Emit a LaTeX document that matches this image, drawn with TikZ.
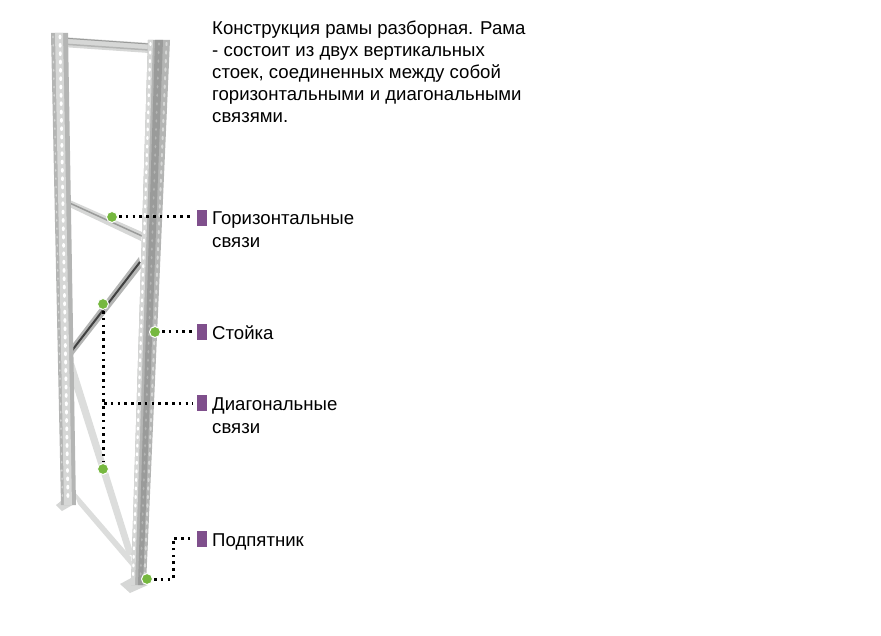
\documentclass[tikz,border=0pt]{standalone}
\usepackage{fontspec}
\setmainfont{Liberation Sans}
\usetikzlibrary{calc}
\definecolor{tagpurple}{HTML}{7F4F8C}
\definecolor{dotgreen}{HTML}{76B83F}
\definecolor{steellight}{HTML}{D6D7D6}
\definecolor{steelmid}{HTML}{B4B5B4}
\definecolor{steeldark}{HTML}{9A9B9A}
\tikzset{
  tag/.style={fill=tagpurple,minimum width=10pt,minimum height=16pt,inner sep=0pt},
  pin/.style={circle,fill=dotgreen,draw=white,line width=1pt,minimum size=11pt,inner sep=0pt},
  label/.style={anchor=north west,align=left,inner sep=0pt,font=\fontsize{18.6}{23}\selectfont},
  leader/.style={draw=black,line width=3pt,dash pattern=on 2.6pt off 4.2pt,shorten >=4pt,shorten <=1pt}
}
\begin{document}
\begin{tikzpicture}[x=1pt,y=-1pt]
    \useasboundingbox (0,0) rectangle (881,636);

    % Draw the feet under the uprights
    \fill[steellight] (56,505) -- (66,497) -- (76,503) -- (62,511) -- cycle;
    \fill[steellight] (120,584) -- (133,577) -- (148,585) -- (130,593) -- cycle;

    % Draw the braces, lying behind the uprights
    \fill[steellight] (62,37) -- (149,43) -- (149,53) -- (62,47) -- cycle;
    \draw[steeldark,line width=1pt] (62,38) -- (149,44);
    \draw[steelmid,line width=1.5pt] (62,44) -- (149,50);
    \fill[steellight] (63,197) -- (142,232) -- (141,241) -- (63,204) -- cycle;
    \draw[steeldark,line width=1.5pt] (63,200) -- (142,236);
    \fill[steelmid] (139,257) -- (141,268) -- (69,360) -- (65,354) -- cycle;
    \draw[black!75,line width=2pt] (140,262) -- (67,357);
    \fill[steellight!85!white] (66,363) -- (74,363) -- (134,555) -- (127,555) -- cycle;
    \fill[steellight!85!white] (73,490) -- (78,504) -- (131,566) -- (131,557) -- cycle;

    % Draw the left upright
    \fill[steelmid] (51,33) -- (68,33) -- (76,505) -- (61,505) -- cycle;
    \fill[steellight] (55,33) -- (63,33) -- (72,505) -- (64,505) -- cycle;
    \foreach \t in {0,0.018,...,1.001} {
        \fill[steellight] ($(53,37)!\t!(62.5,500)$) ellipse (0.8 and 1.5);
        \fill[white] ($(60,37)!\t!(68,500)$) ellipse (1.5 and 2.4);
    }

    % Draw the right upright
    \fill[steelmid] (148,40) -- (170,40) -- (146,585) -- (131,585) -- cycle;
    \fill[steellight] (148,40) -- (153,40) -- (135,585) -- (131,585) -- cycle;
    \fill[steeldark] (155,40) -- (163,40) -- (143,585) -- (138,585) -- cycle;
    \foreach \t in {0,0.016,...,1.001} {
        \fill[white] ($(150.5,44)!\t!(133,578)$) ellipse (1.2 and 2);
        \fill[steelmid] ($(159,44)!\t!(140.5,578)$) ellipse (1 and 1.8);
        \fill[steellight] ($(166.5,44)!\t!(144.5,578)$) ellipse (1.1 and 2.2);
    }

    % Description text
    \node[label,font=\fontsize{18.6}{22}\selectfont] (intro) at (212,21) {Конструкция рамы разборная. Рама\\- состоит из двух вертикальных\\стоек, соединенных между собой\\горизонтальными и диагональными\\связями.};

    % Purple tags and their labels
    \node[tag] (taghoriz) at (202,218) {};
    \node[tag] (tagpost) at (202,332) {};
    \node[tag] (tagdiag) at (202,403) {};
    \node[tag] (tagfoot) at (202,539) {};
    \node[label] (labhoriz) at (212,211) {Горизонтальные\\связи};
    \node[label] (labpost) at (212,325.5) {Стойка};
    \node[label] (labdiag) at (212,397.5) {Диагональные\\связи};
    \node[label] (labfoot) at (212,534) {Подпятник};

    % Green points
    \node[pin] (pinhoriz) at (112,217) {};
    \node[pin] (pinpost) at (155,332) {};
    \node[pin] (pindiagup) at (103,304) {};
    \node[pin] (pindiaglow) at (103,469) {};
    \node[pin] (pinfoot) at (147,579) {};
    \coordinate (branch) at (103,403);
    \coordinate (bend) at (173,538);

    % Dotted leaders
    \draw[leader] (pinhoriz) -- (pinhoriz -| taghoriz.west);
    \draw[leader] (pinpost) -- (tagpost);
    \draw[leader,shorten >=1pt] (pindiagup) -- (pindiaglow);
    \draw[leader] (branch) -- (tagdiag);
    \draw[leader] (pinfoot) -| (bend) -- (tagfoot.west |- bend);
\end{tikzpicture}
\end{document}
